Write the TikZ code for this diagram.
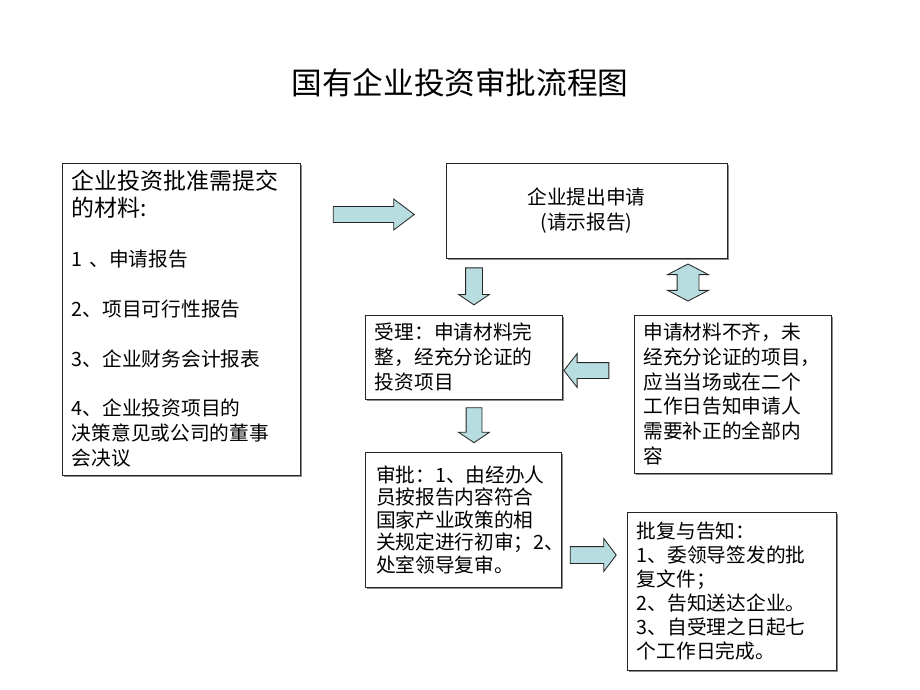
\documentclass[tikz,border=0pt]{standalone}
\usepackage{fontspec}
\usepackage{tikz}
\usetikzlibrary{shapes.arrows, shadows}
\newfontfamily\cjk{Noto Sans CJK SC}
\definecolor{arrowblue}{RGB}{183,221,224}
\tikzstyle{box} = [rectangle, 
draw=black!85, 
fill=white, 
line width=0.6pt, 
drop shadow={shadow xshift=0.04cm, shadow yshift=-0.04cm, fill=black!45, opacity=1}, 
inner xsep=0.25cm, 
align=left, 
font=\cjk\fontsize{14pt}{17.7pt}\selectfont]
\tikzstyle{blk} = [single arrow, 
draw=black!85, 
fill=arrowblue, 
line width=0.6pt, 
minimum width=0pt, 
inner xsep=0pt, 
single arrow head indent=0pt]
\tikzstyle{dbl} = [double arrow, 
draw=black!85, 
fill=arrowblue, 
line width=0.6pt, 
minimum width=0pt, 
inner xsep=0pt, 
double arrow head indent=0pt]

\begin{document}
\begin{tikzpicture}[x=0.025cm, y=-0.025cm]
\useasboundingbox[fill=white] (0,0) rectangle (920,690);

\node (title) at (460,83) [font=\cjk\fontsize{21.8pt}{21.8pt}\selectfont] {国有企业投资审批流程图};

\node (docs) at (181,319) [box, minimum width=5.95cm, minimum height=7.8cm, text width=5.45cm] {{\fontsize{16.3pt}{17.7pt}\selectfont 企业投资批准需提交}\\[1.4pt] {\fontsize{16.3pt}{17.7pt}\selectfont 的材料:}\\[17.7pt] 1 、申请报告\\[17.7pt] 2、项目可行性报告\\[17.7pt] 3、企业财务会计报表\\[17.7pt] 4、企业投资项目的\\ 决策意见或公司的董事\\ 会决议};
\node (apply) at (586.5,210.5) [box, minimum width=7.025cm, minimum height=2.375cm, align=center] {企业提出申请\\(请示报告)};
\node (accept) at (463.5,357) [box, minimum width=4.925cm, minimum height=2.1cm, text width=4.425cm] {受理：申请材料完\\整，经充分论证的\\投资项目};
\node (notify) at (732.5,394) [box, minimum width=4.925cm, minimum height=3.95cm, inner xsep=0.2375cm, text width=4.45cm] {申请材料不齐，未\\经充分论证的项目，\\应当当场或在二个\\工作日告知申请人\\需要补正的全部内\\容};
\node (review) at (463,519.5) [box, minimum width=4.9cm, minimum height=3.375cm, inner xsep=0.28cm, text width=4.34cm, font=\cjk\fontsize{14pt}{16pt}\selectfont] {审批：1、由经办人\\员按报告内容符合\\国家产业政策的相\\关规定进行初审；2、\\处室领导复审。};
\node (reply) at (731.5,591) [box, minimum width=5.225cm, minimum height=3.95cm, text width=4.725cm, font=\cjk\fontsize{14pt}{17pt}\selectfont] {批复与告知：\\1、委领导签发的批\\复文件；\\2、告知送达企业。\\3、自受理之日起七\\个工作日完成。};

\node (toapply) at (368.5,214.5) [blk, minimum height=2.025cm, inner ysep=0.1875cm, single arrow head extend=0.1875cm, single arrow tip angle=74] {};
\node (down1) at (474,283.5) [blk, rotate=-90, minimum height=0.925cm, inner ysep=0.2cm, single arrow head extend=0.175cm, single arrow tip angle=112] {};
\node (both) at (688,282.5) [dbl, rotate=90, minimum height=0.925cm, inner ysep=0.2625cm, double arrow head extend=0.2375cm, double arrow tip angle=125] {};
\node (back) at (589.5,370.5) [blk, rotate=180, minimum height=1.125cm, inner ysep=0.1875cm, single arrow head extend=0.225cm, single arrow tip angle=104] {};
\node (down2) at (474,422.5) [blk, rotate=-90, minimum height=0.875cm, inner ysep=0.1875cm, single arrow head extend=0.1875cm, single arrow tip angle=112] {};
\node (toreply) at (590,555) [blk, minimum height=1.15cm, inner ysep=0.2cm, single arrow head extend=0.2cm, single arrow tip angle=106] {};

\end{tikzpicture}
\end{document}
